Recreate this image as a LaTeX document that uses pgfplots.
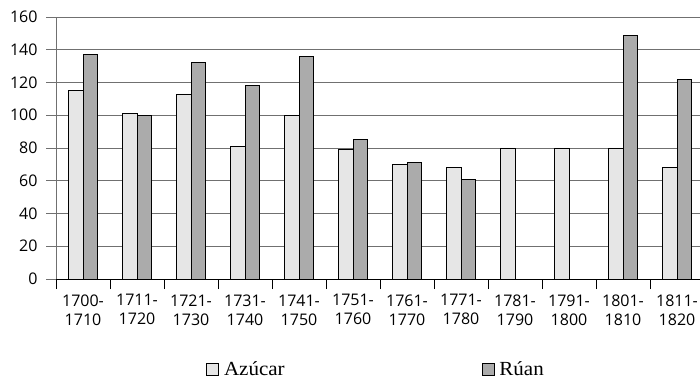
\documentclass[border=0pt]{standalone}
\usepackage{fontspec}
\setmainfont{Open Sans}
\newfontfamily\legfont{Liberation Serif}[FakeStretch=1.05]
\usepackage{pgfplots}
\pgfplotsset{compat=1.18}
\definecolor{azu}{HTML}{E6E6E6}
\definecolor{ruan}{HTML}{ABABAB}
\definecolor{gridc}{HTML}{707070}
\begin{document}
\begin{tikzpicture}
\begin{axis}[
  at={(56pt,103pt)}, anchor=south west,
  scale only axis, width=648pt, height=262pt,
  ybar=0pt, bar width=14.5pt,
  xmin=-0.5, xmax=11.5, ymin=0, ymax=160,
  ytick={0,20,...,160},
  xtick={-0.5,0.5,...,11.5},
  x tick label as interval,
  xticklabels={{1700-\\1710},{1711-\\1720},{1721-\\1730},{1731-\\1740},{1741-\\1750},{1751-\\1760},{1761-\\1770},{1771-\\1780},{1781-\\1790},{1791-\\1800},{1801-\\1810},{1811-\\1820}},
  x tick label style={align=center, font=\fontsize{16}{19}\selectfont, yshift=-2pt},
  y tick label style={font=\fontsize{16}{19}\selectfont, xshift=-5pt},
  /pgf/number format/assume math mode=true,
  axis x line*=bottom, axis y line*=left,
  x axis line style={-, black, line width=0.8pt},
  y axis line style={-, gridc, line width=0.8pt},
  ymajorgrids, grid style={gridc, line width=0.8pt},
  tick align=outside, major tick length=10pt,
  xtick style={black, line width=0.8pt},
  ytick style={gridc, line width=0.8pt},
  legend columns=2,
  legend style={draw=none, fill=none, at={(0.2315,-0.3817)}, anchor=south west,
    inner sep=0pt, font=\legfont\fontsize{20}{22}\selectfont,
    /tikz/every even column/.append style={column sep=195pt}},
]
\addplot[fill=azu, draw=black, line width=0.8pt,
  legend image code/.code={\draw[fill=azu,draw=black,line width=0.8pt] (0pt,-6pt) rectangle (12pt,6pt); \path (15pt,0pt);}]
  coordinates {(0,115) (1,101) (2,113) (3,81) (4,100) (5,79) (6,70) (7,68) (8,80) (9,80) (10,80) (11,68)};
\addplot[fill=ruan, draw=black, line width=0.8pt,
  legend image code/.code={\draw[fill=ruan,draw=black,line width=0.8pt] (0pt,-6pt) rectangle (12pt,6pt); \path (15pt,0pt);}]
  coordinates {(0,137) (1,100) (2,132) (3,118) (4,136) (5,85) (6,71) (7,61) (10,149) (11,122)};
\legend{Azúcar,Rúan}
\end{axis}
\pgfresetboundingbox
\path[use as bounding box] (0,0) rectangle (700pt,382pt);
\end{tikzpicture}
\end{document}
